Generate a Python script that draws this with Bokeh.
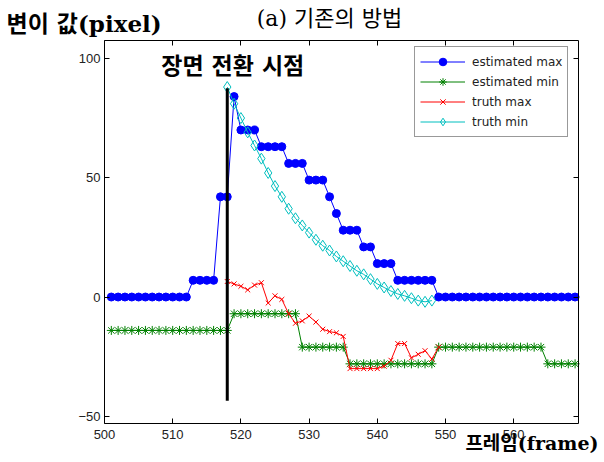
from bokeh.plotting import figure
from bokeh.models import Range1d, LinearAxis, FixedTicker, Label, Legend, LegendItem
from bokeh.embed import file_html
from bokeh.resources import INLINE

# ---------------- data ----------------
frames = list(range(501, 570))
est_max = [0, 0, 0, 0, 0, 0, 0, 0, 0, 0, 0, 0,
           7, 7, 7, 7,
           42, 42,
           84,
           70, 70, 70,
           63, 63, 63, 63,
           56, 56, 56,
           49, 49, 49,
           42,
           35,
           28, 28, 28,
           21, 21,
           14, 14, 14,
           7, 7, 7, 7, 7, 7,
           0, 0, 0, 0, 0, 0, 0, 0, 0, 0, 0, 0, 0, 0, 0, 0, 0, 0, 0, 0, 0]
est_min = [-14, -14, -14, -14, -14, -14, -14, -14, -14, -14, -14, -14, -14, -14, -14, -14, -14, -14,
           -7, -7, -7, -7, -7, -7, -7, -7, -7, -7,
           -21, -21, -21, -21, -21, -21, -21,
           -28, -28, -28, -28, -28, -28, -28, -28, -28, -28, -28, -28, -28,
           -21, -21, -21, -21, -21, -21, -21, -21, -21, -21, -21, -21, -21, -21, -21, -21,
           -28, -28, -28, -28, -28]

truth_max_frames = list(range(518, 550))
truth_max = [6.5, 5.5, 4.5, 3, 5, 6, -2.5, 0.5, -1, -7, -11, -10, -8, -10.5, -13.5, -14.5,
             -15, -16.5, -30, -30, -30, -30, -30, -29, -26.5, -19.5, -19.5, -25.5, -24, -22.5,
             -26, -21]

truth_min_frames = list(range(518, 549))
truth_min = [88, 81, 75, 69, 63.5, 58, 52, 46.5, 42, 37, 33, 30, 27, 24, 21.5, 19.5, 17, 15,
             13, 11, 9.5, 7.5, 5.5, 4, 2.5, 1.3, 0.5, -0.5, -1.5, -2, -1.5]

scene_change_frame = [518]
scene_line_bottom = [-43.5]
scene_line_top = [87.5]

x_ticks = [500, 510, 520, 530, 540, 550, 560]
y_ticks = [-50, 0, 50, 100]
x_lim = (500, 569.5)
y_lim = (-53, 107.5)

series_names = ["estimated max", "estimated min", "truth max", "truth min"]
title_text = "(a) 기존의 방법"
y_label_text = "변이 값(pixel)"
x_label_text = "프레임(frame)"
scene_text = "장면 전환 시점"

KFONT = "DejaVu Serif, Noto Sans CJK KR"

# ---------------- layout geometry (pixels) ----------------
W, H = 604, 462
box_left, box_right, box_top, box_bottom = 104, 578, 40, 423
kx = (box_right - box_left) / (x_lim[1] - x_lim[0])
ky = (box_bottom - box_top) / (y_lim[1] - y_lim[0])
xr = Range1d(x_lim[0] - box_left / kx, x_lim[0] + (W - box_left) / kx)
yr = Range1d(y_lim[1] - (H - box_top) / ky, y_lim[1] + box_top / ky)

p = figure(frame_width=W, frame_height=H, x_range=xr, y_range=yr,
           output_backend="svg", toolbar_location=None,
           x_axis_location=None, y_axis_location=None, min_border=0,
           background_fill_color="white", border_fill_color="white")
p.xgrid.visible = False
p.ygrid.visible = False
p.outline_line_color = None

def add_axis(side, loc, bounds, ticks, show_labels):
    ax = LinearAxis(fixed_location=loc, bounds=bounds, ticker=FixedTicker(ticks=ticks))
    ax.major_tick_in = 5
    ax.major_tick_out = 0
    ax.minor_tick_line_color = None
    ax.axis_line_color = "black"
    ax.axis_line_width = 1
    ax.major_tick_line_color = "black"
    ax.major_label_text_font = "Liberation Sans"
    ax.major_label_text_color = "#222222"
    ax.major_label_text_font_size = "13px"
    if not show_labels:
        ax.major_label_overrides = {t: "" for t in ticks}
    p.add_layout(ax, side)
    return ax

bx = add_axis("below", y_lim[0], x_lim, x_ticks, True)
bx.major_label_standoff = 6
ax_top = add_axis("above", y_lim[1], x_lim, x_ticks, False)
ly = add_axis("left", x_lim[0], y_lim, y_ticks, True)
ly.major_label_standoff = 4
ax_right = add_axis("right", x_lim[1], y_lim, y_ticks, False)

# ---------------- series ----------------
l1 = p.line(frames, est_max, line_color="#0000ff", line_width=1)
s1 = p.scatter(frames, est_max, marker="circle", size=8, fill_color="#0000ff", line_color="#0000ff")

l2 = p.line(frames, est_min, line_color="#008000", line_width=1)
s2 = p.scatter(frames, est_min, marker="asterisk", size=9, line_color="#008000", line_width=1)

l3 = p.line(truth_max_frames, truth_max, line_color="#ff0000", line_width=1)
s3 = p.scatter(truth_max_frames, truth_max, marker="x", size=7, line_color="#ff0000", line_width=1)

l4 = p.line(truth_min_frames, truth_min, line_color="#00bfbf", line_width=1)
s4 = p.scatter(truth_min_frames, truth_min, marker="diamond", size=11, fill_color=None,
               line_color="#00bfbf", line_width=1)

p.segment(x0=scene_change_frame, y0=scene_line_bottom, x1=scene_change_frame, y1=scene_line_top,
          line_color="black", line_width=3)

# ---------------- legend ----------------
legend = Legend(items=[
    LegendItem(label=series_names[0], renderers=[l1, s1]),
    LegendItem(label=series_names[1], renderers=[l2, s2]),
    LegendItem(label=series_names[2], renderers=[l3, s3]),
    LegendItem(label=series_names[3], renderers=[l4, s4]),
], location=(414, H - 137))
legend.label_text_font = "DejaVu Sans"
legend.label_text_font_size = "12px"
legend.label_text_color = "#222222"
legend.glyph_width = 45
legend.glyph_height = 19
legend.label_height = 19
legend.spacing = 1
legend.padding = 5
legend.margin = 0
legend.label_standoff = 7
legend.border_line_color = "#333333"
legend.border_line_width = 1
legend.background_fill_color = "white"
legend.background_fill_alpha = 1
p.add_layout(legend, "center")

# ---------------- texts ----------------
p.add_layout(Label(x=518.8, y=97, text=scene_text, text_font=KFONT, text_font_size="23px",
                   text_font_style="bold", text_align="center", text_baseline="middle",
                   text_color="black"))
p.add_layout(Label(x=6, y=H - 23, x_units="screen", y_units="screen", text=y_label_text,
                   text_font=KFONT, text_font_size="23px", text_font_style="bold",
                   text_align="left", text_baseline="middle", text_color="black"))
p.add_layout(Label(x=329, y=H - 18, x_units="screen", y_units="screen", text=title_text,
                   text_font=KFONT, text_font_size="22px",
                   text_align="center", text_baseline="middle", text_color="black"))
p.add_layout(Label(x=598, y=H - 442, x_units="screen", y_units="screen", text=x_label_text,
                   text_font=KFONT, text_font_size="19px", text_font_style="bold",
                   text_align="right", text_baseline="middle", text_color="black"))

open("out.html", "w").write(file_html(p, INLINE))
